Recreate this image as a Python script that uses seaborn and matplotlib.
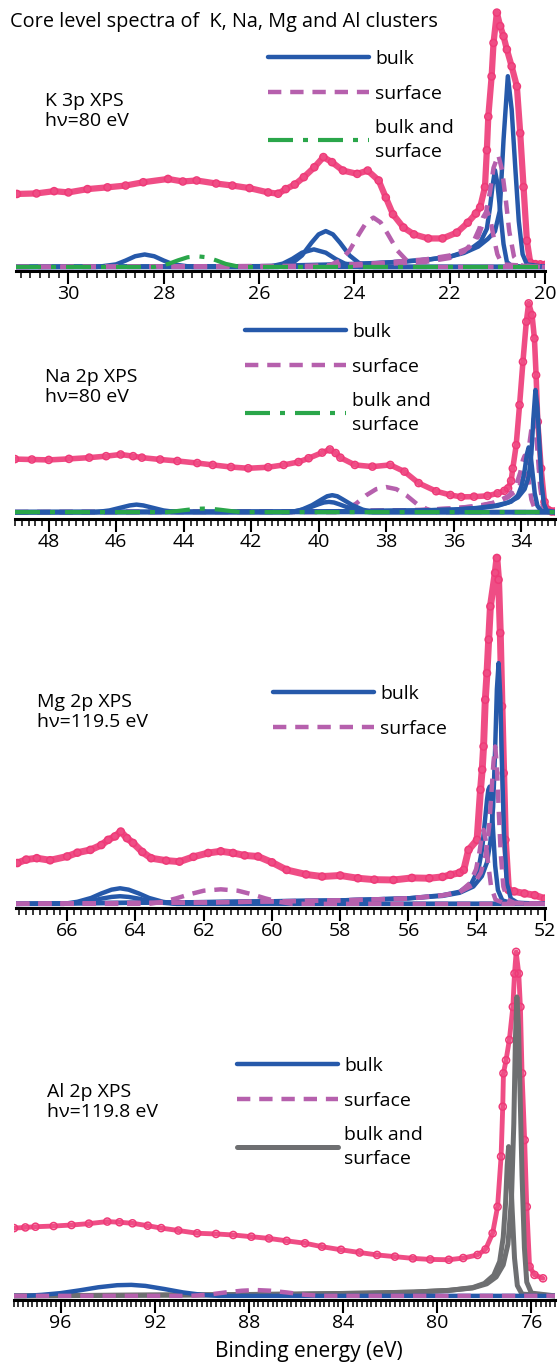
import matplotlib
matplotlib.use("Agg")
import matplotlib.pyplot as plt
from matplotlib.ticker import MultipleLocator
import seaborn as sns

# ---------------- K 3p, hv = 80 eV ----------------
k_x = [31.08, 30.67, 30.3, 30.0, 29.6, 29.18, 28.8, 28.43, 27.91, 27.6, 27.31, 26.9,
       26.56, 26.2, 25.81, 25.6, 25.44, 25.25, 25.06, 24.84, 24.65, 24.47, 24.24, 23.94,
       23.72, 23.49, 23.34, 23.19, 22.97, 22.75, 22.45, 22.15, 21.85, 21.62, 21.45, 21.36,
       21.26, 21.22, 21.19, 21.12, 21.08, 21.01, 20.94, 20.87, 20.80, 20.70, 20.59, 20.52,
       20.45, 20.38, 20.31, 20.2, 20.1, 20.0]
k_y = [28.7, 28.9, 29.8, 29.3, 30.6, 31.3, 32.0, 33.3, 34.6, 33.6, 34.0, 32.8,
       32.0, 31.0, 29.3, 28.8, 30.6, 32.4, 35.3, 39.2, 43.2, 41.2, 37.9, 36.6,
       37.9, 34.0, 27.3, 20.7, 15.5, 12.8, 11.2, 11.2, 13.5, 17.4, 21.0, 23.5,
       31.4, 45.9, 59.1, 74.9, 88.1, 100, 94.7, 90.7, 85.5, 78.9, 71.0, 52.6,
       31.4, 10.3, 1.7, 1.1, 1.0, 0.8]

k_bulk1_x = [31.1, 26.0, 24.0, 23.0, 22.4, 22.0, 21.7, 21.4, 21.2, 21.05, 20.95, 20.87,
             20.78, 20.7, 20.62, 20.55, 20.47, 20.38, 20.0]
k_bulk1_y = [0, 0.3, 1.2, 2.0, 3.0, 4.0, 5.5, 8.0, 11, 14, 22, 50,
             75, 62, 38, 18, 5, 1, 0]
k_bulk2_x = [31.1, 25.0, 23.5, 22.5, 22.0, 21.6, 21.35, 21.22, 21.15, 21.1, 21.05, 21.0,
             20.94, 20.87, 20.8, 20.7, 20.0]
k_bulk2_y = [0, 0.3, 1.5, 2.8, 4.0, 6.5, 10, 15, 24, 32, 38, 33,
             22, 9, 2, 0.3, 0]
k_bulk3_x = [31.1, 29.4, 29.0, 28.8, 28.6, 28.4, 28.2, 28.0, 27.8, 27.4, 20.0]
k_bulk3_y = [0, 0, 1.0, 2.5, 4.2, 4.9, 4.2, 2.5, 1.0, 0, 0]
k_bulk4_x = [31.1, 25.6, 25.3, 25.1, 24.9, 24.75, 24.6, 24.45, 24.3, 24.1, 23.9, 23.6, 20.0]
k_bulk4_y = [0, 0, 1.5, 4.5, 9.5, 12.8, 14.1, 12.8, 9.5, 4.5, 1.5, 0, 0]
k_bulk5_x = [31.1, 25.8, 25.5, 25.3, 25.1, 24.85, 24.6, 24.4, 24.2, 23.9, 20.0]
k_bulk5_y = [0, 0, 1.3, 3.2, 5.6, 6.9, 5.6, 3.2, 1.3, 0, 0]

k_surf1_x = [31.1, 24.6, 24.3, 24.1, 23.9, 23.75, 23.6, 23.45, 23.3, 23.1, 22.9, 22.7, 20.0]
k_surf1_y = [0, 0, 2.5, 6.5, 13, 17.5, 19.4, 17.5, 13, 6.5, 2.5, 0, 0]
k_surf2_x = [31.1, 25.0, 23.5, 22.5, 22.0, 21.6, 21.4, 21.25, 21.15, 21.08, 20.98, 20.9,
             20.82, 20.75, 20.65, 20.5, 20.0]
k_surf2_y = [0, 0.3, 1.5, 3.0, 4.5, 7.5, 12, 20, 30, 39, 44, 38,
             26, 14, 4, 0.5, 0]
k_surf3_x = [31.1, 24.0, 22.5, 22.0, 21.7, 21.5, 21.38, 21.3, 21.22, 21.15, 21.08, 21.0, 20.9, 20.0]
k_surf3_y = [0, 0.5, 2.0, 3.5, 6.0, 10, 15, 19.5, 22, 19, 12, 5, 1, 0]

k_both_x = [31.1, 28.2, 27.9, 27.7, 27.5, 27.3, 27.1, 26.9, 26.7, 26.4, 20.0]
k_both_y = [0, 0, 1.2, 2.6, 3.8, 4.2, 3.8, 2.6, 1.2, 0, 0]

# ---------------- Na 2p, hv = 80 eV ----------------
na_x = [49.0, 48.5, 48.0, 47.4, 46.8, 46.3, 45.87, 45.5, 45.24, 44.7, 44.19, 43.6,
        43.14, 42.6, 42.09, 41.5, 41.04, 40.6, 40.3, 39.9, 39.67, 39.5, 39.36, 38.93,
        38.41, 37.88, 37.46, 37.04, 36.52, 36.1, 35.78, 35.4, 35.0, 34.7, 34.5, 34.39,
        34.3, 34.25, 34.15, 34.05, 33.95, 33.85, 33.78, 33.68, 33.61, 33.56, 33.51, 33.41,
        33.31, 33.2, 33.1, 33.0]
na_y = [25.4, 25.2, 25.0, 25.5, 26.1, 26.8, 27.6, 26.8, 26.1, 25.2, 24.5, 23.5,
        22.6, 21.6, 21.0, 21.5, 22.6, 24.0, 25.8, 28.5, 30.0, 28.3, 26.1, 22.6,
        21.8, 22.6, 19.4, 13.9, 10.0, 8.2, 7.3, 7.4, 7.8, 9.0, 10.2, 11.4,
        15.0, 20.9, 32.1, 51.3, 72.0, 91.2, 100, 94.4, 83.2, 65.6, 43.3, 20.9,
        4.9, 1.0, 0.3, 0.3]

na_bulk1_x = [49.0, 40.0, 37.0, 36.0, 35.3, 34.8, 34.4, 34.1, 33.9, 33.78, 33.7, 33.64,
              33.58, 33.52, 33.46, 33.4, 33.33, 33.25, 33.0]
na_bulk1_y = [0, 0.3, 0.8, 1.2, 2.0, 3.0, 4.5, 7.0, 11, 17, 28, 45,
              58.5, 50, 32, 14, 4, 0.8, 0]
na_bulk2_x = [49.0, 40.0, 37.0, 36.0, 35.2, 34.7, 34.3, 34.1, 33.98, 33.9, 33.83, 33.78,
              33.72, 33.66, 33.6, 33.52, 33.4, 33.0]
na_bulk2_y = [0, 0.3, 0.8, 1.2, 2.0, 3.0, 5.0, 8.0, 13, 20, 28, 31,
              27, 18, 9, 3, 0.5, 0]
na_bulk3_x = [49.0, 46.6, 46.2, 45.9, 45.6, 45.4, 45.2, 44.9, 44.6, 44.2, 33.0]
na_bulk3_y = [0, 0, 0.8, 2.0, 3.2, 3.6, 3.2, 2.0, 0.8, 0, 0]
na_bulk4_x = [49.0, 40.8, 40.5, 40.2, 39.9, 39.75, 39.6, 39.45, 39.3, 39.0, 38.7, 38.4, 33.0]
na_bulk4_y = [0, 0, 1.2, 3.3, 6.2, 7.6, 8.1, 7.6, 6.2, 3.3, 1.2, 0, 0]
na_bulk5_x = [49.0, 40.9, 40.6, 40.3, 40.0, 39.85, 39.7, 39.55, 39.4, 39.1, 38.8, 38.5, 33.0]
na_bulk5_y = [0, 0, 0.7, 2.0, 3.8, 4.6, 4.9, 4.6, 3.8, 2.0, 0.7, 0, 0]

na_surf1_x = [49.0, 39.5, 39.2, 38.9, 38.6, 38.3, 38.0, 37.7, 37.4, 37.1, 36.8, 36.5, 33.0]
na_surf1_y = [0, 0, 1.5, 4.0, 8.0, 11, 12, 11, 8.0, 4.0, 1.5, 0, 0]
na_surf2_x = [49.0, 40.0, 37.0, 36.0, 35.3, 34.8, 34.4, 34.1, 33.92, 33.82, 33.74, 33.68,
              33.62, 33.56, 33.5, 33.44, 33.36, 33.25, 33.0]
na_surf2_y = [0, 0.3, 1.0, 1.8, 3.0, 4.5, 7.0, 11, 17, 25, 35, 42,
              45, 38, 25, 12, 3, 0.5, 0]
na_surf3_x = [49.0, 40.0, 37.0, 36.0, 35.2, 34.7, 34.35, 34.15, 34.03, 33.95, 33.9, 33.84,
              33.77, 33.7, 33.6, 33.45, 33.0]
na_surf3_y = [0, 0.3, 1.0, 1.8, 3.0, 5.0, 8.0, 13, 19, 25, 27, 23,
              14, 6, 1.5, 0.3, 0]

na_both_x = [49.0, 44.5, 44.2, 43.9, 43.6, 43.4, 43.2, 42.9, 42.6, 42.3, 33.0]
na_both_y = [0, 0, 0.5, 1.1, 1.6, 1.7, 1.6, 1.1, 0.5, 0, 0]

# ---------------- Mg 2p, hv = 119.5 eV ----------------
mg_x = [67.46, 67.2, 66.89, 66.5, 66.0, 65.7, 65.32, 65.0, 64.80, 64.6, 64.43, 64.25,
        64.07, 63.8, 63.54, 63.1, 62.71, 62.3, 61.87, 61.5, 61.14, 60.8, 60.41, 60.0,
        59.57, 59.0, 58.53, 58.0, 57.48, 57.0, 56.44, 55.9, 55.39, 55.0, 54.77, 54.5,
        54.38, 54.24, 53.99, 53.89, 53.84, 53.80, 53.75, 53.70, 53.65, 53.60, 53.46, 53.41,
        53.36, 53.31, 53.26, 53.21, 53.16, 53.07, 52.9, 52.6, 52.3, 52.0]
mg_y = [11.8, 12.8, 13.2, 12.6, 13.7, 14.8, 15.6, 17.0, 18.5, 19.5, 20.9, 19.0,
        17.6, 15.0, 13.2, 12.5, 12.2, 13.6, 14.7, 15.2, 14.7, 14.0, 13.7, 12.0,
        9.8, 8.5, 7.9, 8.2, 7.4, 7.0, 6.9, 7.5, 7.4, 7.8, 8.4, 9.0,
        9.8, 15.6, 18.5, 33.0, 38.8, 45.5, 59.0, 66.7, 76.4, 86.0, 95.7, 100,
        93.7, 78.3, 57.1, 37.8, 18.5, 4.0, 3.6, 3.0, 2.5, 1.5]

mg_bulk1_x = [67.5, 62.0, 58.0, 56.0, 55.0, 54.5, 54.1, 53.85, 53.7, 53.6, 53.52, 53.46,
              53.41, 53.36, 53.31, 53.26, 53.2, 53.12, 53.0, 52.8, 52.0]
mg_bulk1_y = [0, 0.5, 1.0, 1.6, 2.3, 3.2, 5.0, 8.0, 12, 18, 28, 45,
              62, 69.6, 60, 40, 20, 6, 1.5, 0.3, 0]
mg_bulk2_x = [67.5, 62.0, 58.0, 56.0, 55.0, 54.5, 54.15, 53.95, 53.84, 53.76, 53.7, 53.66,
              53.62, 53.57, 53.52, 53.46, 53.38, 53.25, 53.0, 52.0]
mg_bulk2_y = [0, 0.5, 1.0, 1.6, 2.5, 3.5, 6.0, 10, 16, 24, 30, 33,
              33.9, 30, 21, 11, 4, 1, 0.3, 0]
mg_bulk3_x = [67.5, 66.1, 65.7, 65.3, 65.0, 64.7, 64.45, 64.2, 63.9, 63.6, 63.2, 62.8, 52.0]
mg_bulk3_y = [0, 0, 0.6, 1.7, 3.0, 4.1, 4.5, 4.1, 3.0, 1.7, 0.6, 0, 0]
mg_bulk4_x = [67.5, 66.1, 65.7, 65.3, 65.0, 64.7, 64.45, 64.2, 63.9, 63.6, 63.2, 62.8, 52.0]
mg_bulk4_y = [0, 0, 0.3, 0.8, 1.5, 2.0, 2.2, 2.0, 1.5, 0.8, 0.3, 0, 0]

mg_surf1_x = [67.5, 62.0, 58.0, 56.0, 55.0, 54.5, 54.1, 53.88, 53.74, 53.64, 53.57, 53.51,
              53.46, 53.41, 53.36, 53.3, 53.22, 53.1, 52.9, 52.0]
mg_surf1_y = [0, 0.4, 1.0, 1.6, 2.5, 3.4, 5.5, 9.0, 14, 22, 32, 41,
              45.5, 40, 28, 15, 5, 1.2, 0.3, 0]
mg_surf2_x = [67.5, 62.0, 58.0, 56.0, 55.0, 54.5, 54.2, 54.02, 53.92, 53.86, 53.8, 53.74,
              53.67, 53.58, 53.45, 53.2, 52.0]
mg_surf2_y = [0, 0.4, 1.0, 1.5, 2.4, 3.4, 6.0, 10, 15, 19, 21.4, 18.5,
              12, 5, 1.2, 0.2, 0]
mg_surf3_x = [67.5, 63.6, 63.2, 62.8, 62.4, 62.0, 61.5, 61.0, 60.6, 60.2, 59.8, 59.4, 52.0]
mg_surf3_y = [0, 0, 0.6, 1.6, 2.8, 3.8, 4.2, 3.8, 2.8, 1.6, 0.6, 0, 0]

# ---------------- Al 2p, hv = 119.8 eV ----------------
al_x = [97.98, 97.5, 97.07, 96.3, 95.54, 94.8, 94.02, 93.5, 92.95, 92.3, 91.73, 91.0,
        90.20, 89.4, 88.67, 87.9, 87.15, 86.4, 85.62, 84.9, 84.09, 83.3, 82.56, 81.8,
        81.04, 80.3, 79.51, 78.9, 78.29, 77.95, 77.65, 77.44, 77.29, 77.22, 77.19, 77.08,
        76.94, 76.79, 76.72, 76.65, 76.54, 76.47, 76.40, 76.29, 76.20, 76.08, 75.87, 75.51]
al_y = [19.7, 19.9, 20.1, 20.3, 20.6, 21.0, 21.6, 21.4, 21.1, 20.4, 19.7, 19.0,
        18.2, 18.0, 17.7, 17.2, 16.7, 16.0, 15.3, 14.3, 13.4, 12.6, 11.9, 11.4,
        10.9, 10.6, 10.5, 11.0, 11.9, 13.5, 18.2, 25.9, 40.5, 55.0, 64.7, 68.5,
        74.4, 84.0, 93.7, 100, 93.7, 84.0, 64.7, 45.3, 25.9, 8.5, 6.1, 5.1]

al_bulk1_x = [98.0, 97.5, 96.8, 96.0, 95.2, 94.4, 93.6, 93.0, 92.4, 91.6, 90.8, 90.0, 89.3, 75.0]
al_bulk1_y = [0, 0, 0.3, 0.8, 1.6, 2.5, 3.1, 3.2, 2.9, 2.0, 1.0, 0.3, 0, 0]
al_surf1_x = [98.0, 90.5, 89.8, 89.0, 88.3, 87.7, 87.1, 86.4, 85.6, 84.9, 75.0]
al_surf1_y = [0, 0, 0.3, 1.0, 1.5, 1.7, 1.5, 1.0, 0.3, 0, 0]
al_both1_x = [98.0, 90.0, 86.0, 83.0, 81.0, 79.5, 78.5, 77.9, 77.5, 77.2, 77.0, 76.85,
              76.75, 76.68, 76.62, 76.55, 76.48, 76.4, 76.3, 76.2, 76.0, 75.0]
al_both1_y = [0, 0.3, 0.5, 0.8, 1.1, 1.6, 2.3, 3.5, 5.5, 9, 15, 28,
              50, 75, 86.9, 78, 58, 35, 14, 4, 0.8, 0]
al_both2_x = [98.0, 90.0, 86.0, 83.0, 81.0, 79.5, 78.5, 78.0, 77.6, 77.35, 77.2, 77.1,
              77.03, 76.97, 76.9, 76.82, 76.72, 76.6, 76.4, 75.0]
al_both2_y = [0, 0.3, 0.5, 0.8, 1.1, 1.6, 2.4, 3.6, 6.0, 10, 17, 27,
              38, 43.4, 38, 25, 11, 3, 0.5, 0]

PINK = "#ee3a78"
BLUE = "#2659aa"
PURPLE = "#b660ad"
GREEN = "#2aa64a"
GRAY = "#6e6f71"

sns.set_style("white")
plt.rcParams["font.family"] = ["Open Sans", "DejaVu Sans"]
plt.rcParams["text.color"] = "black"
plt.rcParams["xtick.color"] = "black"
plt.rcParams["axes.labelcolor"] = "black"
FS = 14

W, H = 560, 1363
fig = plt.figure(figsize=(W / 100, H / 100), dpi=100)


def panel(left, right, top, bottom):
    return fig.add_axes([left / W, 1 - bottom / H, (right - left) / W, (bottom - top) / H])


def curve(ax, x, y, color, ls, lw, z):
    sns.lineplot(x=x, y=y, ax=ax, color=color, linestyle=ls, lw=lw,
                 estimator=None, sort=False, zorder=z)
    return ax.lines[-1]


def spectrum(ax, x, y, band):
    sns.lineplot(x=x, y=y, ax=ax, color=PINK, lw=band, estimator=None, sort=False,
                 zorder=1, alpha=0.9)
    sns.scatterplot(x=x, y=y, ax=ax, marker="o", s=26, facecolors="none",
                    edgecolors=PINK, linewidths=1.1, zorder=2)


DASH = (0, (3, 2))
DASHDOT = (0, (6, 2.4, 1.2, 2.4))

specs = [
    dict(text="K 3p XPS\nh\u03bd=80 eV", box=(16, 545, 5, 271), xlim=(31.1, 20),
         ylim=(-1.6, 103), major=2, band=4.5, lab=(45, 111), leg=(268, 50),
         x=k_x, y=k_y,
         bulk=[(k_bulk3_x, k_bulk3_y), (k_bulk5_x, k_bulk5_y), (k_bulk4_x, k_bulk4_y),
               (k_bulk2_x, k_bulk2_y), (k_bulk1_x, k_bulk1_y)],
         surf=[(k_surf1_x, k_surf1_y), (k_surf3_x, k_surf3_y), (k_surf2_x, k_surf2_y)],
         both=[(k_both_x, k_both_y)], both_style=(GREEN, DASHDOT, 3), order="bsx"),
    dict(text="Na 2p XPS\nh\u03bd=80 eV", box=(15, 555, 295, 519), xlim=(49, 33),
         ylim=(-3.3, 104), major=2, band=4, lab=(45, 387), leg=(245, 323),
         x=na_x, y=na_y,
         bulk=[(na_bulk3_x, na_bulk3_y), (na_bulk5_x, na_bulk5_y), (na_bulk4_x, na_bulk4_y),
               (na_bulk2_x, na_bulk2_y), (na_bulk1_x, na_bulk1_y)],
         surf=[(na_surf1_x, na_surf1_y), (na_surf3_x, na_surf3_y), (na_surf2_x, na_surf2_y)],
         both=[(na_both_x, na_both_y)], both_style=(GREEN, DASHDOT, 3), order="sbx"),
    dict(text="Mg 2p XPS\nh\u03bd=119.5 eV", box=(16, 545, 550, 908), xlim=(67.5, 52),
         ylim=(-1.2, 102.3), major=2, band=5, lab=(37, 712), leg=(273, 685),
         x=mg_x, y=mg_y,
         bulk=[(mg_bulk4_x, mg_bulk4_y), (mg_bulk3_x, mg_bulk3_y),
               (mg_bulk2_x, mg_bulk2_y), (mg_bulk1_x, mg_bulk1_y)],
         surf=[(mg_surf3_x, mg_surf3_y), (mg_surf2_x, mg_surf2_y), (mg_surf1_x, mg_surf1_y)],
         both=[], both_style=None, order="bs"),
    dict(text="Al 2p XPS\nh\u03bd=119.8 eV", box=(13.6, 555, 945, 1300), xlim=(98, 75),
         ylim=(-1.2, 102), major=4, band=3.5, lab=(47, 1102), leg=(237, 1057),
         x=al_x, y=al_y,
         bulk=[(al_bulk1_x, al_bulk1_y)],
         surf=[(al_surf1_x, al_surf1_y)],
         both=[(al_both2_x, al_both2_y), (al_both1_x, al_both1_y)],
         both_style=(GRAY, "-", 3.6), order="xbs"),
]

for sp in specs:
    left, right, top, bottom = sp["box"]
    ax = panel(left, right, top, bottom)
    spectrum(ax, sp["x"], sp["y"], sp["band"])

    handles = {}
    z = 3
    for key in sp["order"]:
        if key == "b":
            for cx, cy in sp["bulk"]:
                handles["bulk"] = curve(ax, cx, cy, BLUE, "-", 3.2, z)
        elif key == "s":
            for cx, cy in sp["surf"]:
                handles["surface"] = curve(ax, cx, cy, PURPLE, DASH, 3.2, z)
        else:
            col, ls, lw = sp["both_style"]
            for cx, cy in sp["both"]:
                handles["bulk and\nsurface"] = curve(ax, cx, cy, col, ls, lw, z)
        z += 1

    ax.set_xlim(*sp["xlim"])
    ax.set_ylim(*sp["ylim"])
    ax.set_yticks([])
    ax.set_ylabel("")
    ax.set_xlabel("")
    for s in ("left", "top", "right"):
        ax.spines[s].set_visible(False)
    ax.spines["bottom"].set_linewidth(2.2)
    ax.spines["bottom"].set_color("black")
    ax.xaxis.set_major_locator(MultipleLocator(sp["major"]))
    ax.xaxis.set_minor_locator(MultipleLocator(0.2))
    ax.tick_params(axis="x", which="major", direction="out", length=9, width=1.5,
                   labelsize=FS, pad=1, bottom=True, colors="black")
    ax.tick_params(axis="x", which="minor", direction="out", length=5, width=1.1,
                   bottom=True, colors="black")
    ax.patch.set_alpha(0)

    # panel label
    lx, ly = sp["lab"]
    fig.text(lx / W, 1 - ly / H, sp["text"], ha="left", va="center", fontsize=FS,
             linespacing=1.2)

    # legend
    names = [n for n in ("bulk", "surface", "bulk and\nsurface") if n in handles]
    gx, gy = sp["leg"]
    leg = ax.legend([handles[n] for n in names], names, loc="upper left",
                    bbox_to_anchor=((gx - left) / (right - left), (bottom - gy) / (bottom - top)),
                    frameon=False, fontsize=FS, handlelength=5.2, handletextpad=0.3,
                    labelspacing=0.85, borderpad=0, borderaxespad=0)
    for t in leg.get_texts():
        t.set_linespacing(1.45)
        t.set_color("black")

last = fig.axes[-1]
last.set_xlabel("Binding energy (eV)", fontsize=FS + 1)
last.xaxis.set_label_coords(0.545, -0.115)

fig.text(10 / W, 1 - 22 / H, "Core level spectra of  K, Na, Mg and Al clusters",
         ha="left", va="center", fontsize=FS + 0.3)

fig.savefig("out.png", dpi=100)
